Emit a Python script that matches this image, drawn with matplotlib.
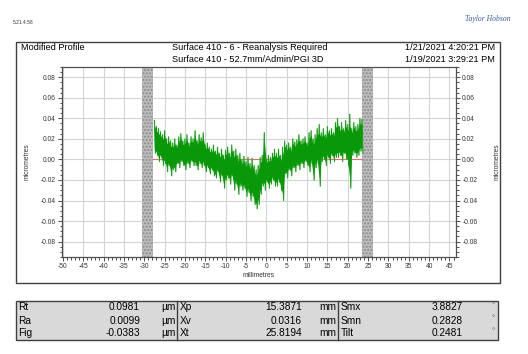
import matplotlib
matplotlib.use('Agg')
import numpy as np
from matplotlib import pyplot as plt
from matplotlib.patches import Rectangle
from matplotlib.ticker import MultipleLocator, FormatStrFormatter

plt.rcParams['font.family'] = ['Liberation Sans', 'DejaVu Sans']
plt.rcParams['axes.unicode_minus'] = False

# profile positions (mm) every 0.5 mm, with upper / lower envelope of the noisy trace (um)
pos = [-27.5 + 0.5 * i for i in range(103)]
prof_hi = [0.038, 0.032, 0.030, 0.027, 0.024, 0.028, 0.020, 0.022, 0.018, 0.016,
           0.020, 0.014, 0.022, 0.025, 0.018, 0.020, 0.024, 0.016, 0.022, 0.020,
           0.028, 0.018, 0.024, 0.021, 0.026, 0.014, 0.016, 0.012, 0.010, 0.014,
           0.008, 0.012, 0.006, 0.010, 0.004, 0.009, 0.012, 0.006, 0.014, 0.008,
           0.010, 0.004, 0.006, 0.000, 0.003, -0.002, 0.002, -0.004, 0.001, -0.006,
           -0.010, -0.006, 0.002, 0.004, 0.026, 0.000, 0.004, 0.002, 0.006, 0.010,
           0.006, 0.010, 0.004, 0.012, 0.018, 0.014, 0.016, 0.012, 0.020, 0.017,
           0.019, 0.024, 0.018, 0.020, 0.022, 0.016, 0.026, 0.028, 0.020, 0.024,
           0.030, 0.034, 0.026, 0.030, 0.024, 0.032, 0.028, 0.030, 0.026, 0.036,
           0.040, 0.032, 0.036, 0.030, 0.038, 0.034, 0.044, 0.030, 0.036, 0.032,
           0.034, 0.040, 0.039]
prof_lo = [0.006, 0.004, -0.002, 0.002, -0.006, -0.004, -0.012, -0.006, -0.016, -0.010,
           -0.012, -0.004, -0.008, -0.002, -0.006, -0.010, -0.004, -0.008, -0.002, -0.006,
           -0.006, -0.010, -0.004, -0.008, -0.006, -0.012, -0.008, -0.014, -0.010, -0.016,
           -0.018, -0.012, -0.022, -0.016, -0.028, -0.020, -0.018, -0.024, -0.016, -0.030,
           -0.024, -0.034, -0.026, -0.030, -0.028, -0.036, -0.032, -0.040, -0.036, -0.044,
           -0.048, -0.044, -0.034, -0.026, -0.030, -0.022, -0.028, -0.024, -0.020, -0.026,
           -0.026, -0.022, -0.030, -0.040, -0.014, -0.018, -0.010, -0.016, -0.008, -0.012,
           -0.006, -0.010, -0.004, -0.008, -0.002, -0.006, -0.012, -0.004, -0.020, -0.008,
           -0.004, -0.026, -0.002, 0.000, -0.006, 0.002, -0.004, 0.004, -0.002, 0.002,
           0.002, 0.004, -0.002, 0.006, 0.000, -0.006, -0.028, 0.004, 0.006, 0.002,
           0.004, 0.008, 0.006]

# excluded (masked) zones, mm
masks = [(-30.5, -27.8), (23.5, 26.1)]

header_left = '5.21.4.58'
title_left = 'Modified Profile'
title_mid = ['Surface 410 - 6 - Reanalysis Required', 'Surface 410 - 52.7mm/Admin/PGI 3D']
title_right = ['1/21/2021 4:20:21 PM', '1/19/2021 3:29:21 PM']

# results table
tab_rows = [['Rt', '0.0981', 'µm', 'Xp', '15.3871', 'mm', 'Smx', '3.8827', '°'],
            ['Ra', '0.0099', 'µm', 'Xv', '0.0316', 'mm', 'Smn', '0.2828', '°'],
            ['Fig', '-0.0383', 'µm', 'Xt', '25.8194', 'mm', 'Tilt', '0.2481', '°']]

W, H = 528, 354
fig = plt.figure(figsize=(W / 100, H / 100), dpi=100)


def fx(px):
    return px / W


def fy(py):
    return 1 - py / H


# outer frame
fig.patches.append(Rectangle((fx(16), fy(283)), fx(500) - fx(16), fy(42) - fy(283),
                             transform=fig.transFigure, fill=False, ec='#404040', lw=1))

fig.text(fx(13), fy(22), header_left, fontsize=3.5, va='center', color='#333333')
fig.text(fx(511), fy(19), 'Taylor Hobson', fontsize=5.5, ha='right', va='center',
         style='italic', family='Liberation Serif', color='#3a5a9a')

fig.text(fx(21), fy(47), title_left, fontsize=6.6, va='center')
for i in range(2):
    fig.text(fx(172), fy(47 + 12 * i), title_mid[i], fontsize=6.6, va='center')
    fig.text(fx(495), fy(47 + 12 * i), title_right[i], fontsize=6.6, va='center', ha='right')

ax = fig.add_axes([fx(62), fy(257), fx(456) - fx(62), fy(67) - fy(257)])
ax.set_xlim(-50.2, 46.6)
ax.set_ylim(-0.095, 0.09)

ax.xaxis.set_major_locator(MultipleLocator(5))
ax.xaxis.set_minor_locator(MultipleLocator(1))
ax.yaxis.set_minor_locator(MultipleLocator(0.005))
ax.set_yticks(np.arange(-0.08, 0.081, 0.02))
ax.grid(True, which='major', color='#d4d4d4', lw=0.8)
ax.set_axisbelow(True)

for a, b in masks:
    ax.axvspan(a, b, facecolor='#bdbdbd', edgecolor='#8a8a8a', hatch='.....', lw=0, zorder=2)

ax.plot([masks[0][1], masks[1][0]], [0, 0], color='#e07070', lw=0.8, zorder=3)

p = np.array(pos)
core_hi = [h - 0.15 * (h - l) for h, l in zip(prof_hi, prof_lo)]
core_lo = [l + 0.12 * (h - l) for h, l in zip(prof_hi, prof_lo)]
ax.fill_between(p, core_lo, core_hi, color='#089808', lw=0, zorder=4)
zx, zy = [], []
for x, h, l in zip(pos, prof_hi, prof_lo):
    zx += [x, x + 0.25]
    zy += [h, l]
ax.plot(zx, zy, color='#6cc46c', lw=0.9, zorder=3.5)
ax.plot(zx, zy, color='#089808', lw=0.5, zorder=4)

for s in ax.spines.values():
    s.set_color('#505050')
    s.set_linewidth(0.9)

ax.tick_params(which='both', labelsize=4.8, colors='#333333', length=3, width=0.6, pad=1.5,
               right=True, labelright=True)
ax.tick_params(which='minor', length=1.8)
ax.yaxis.set_major_formatter(FormatStrFormatter('%.2f'))
ax.set_xlabel('millimetres', fontsize=4.8, labelpad=1.5, color='#333333')
ax.set_ylabel('micrometres', fontsize=4.8, labelpad=7, color='#333333')
fig.text(fx(497), fy(162), 'micrometres', fontsize=4.8, rotation=90, va='center', ha='center',
         color='#333333')

# results table
ty0, rh = 301, 13
fig.patches.append(Rectangle((fx(16), fy(ty0 + 3 * rh)), fx(498) - fx(16), fy(ty0) - fy(ty0 + 3 * rh),
                             transform=fig.transFigure, fc='#d9d9d9', ec='#404040', lw=1))
for xd in (177, 338):
    fig.add_artist(plt.Line2D([fx(xd), fx(xd)], [fy(ty0), fy(ty0 + 3 * rh)], color='#404040', lw=1))

groups = [(18, 140, 176), (180, 302, 336), (341, 463, 495)]
for r, row in enumerate(tab_rows):
    yy = fy(ty0 + rh * r + rh / 2)
    for g, (xl, xv, xu) in enumerate(groups):
        lab, val, unit = row[3 * g:3 * g + 3]
        fig.text(fx(xl), yy, lab, fontsize=7.3, va='center')
        fig.text(fx(xv), yy, val, fontsize=7.3, va='center', ha='right')
        if unit == '°':
            fig.text(fx(xu), fy(ty0 + rh * r + 5), unit, fontsize=5.5, va='center', ha='right',
                     color='#555555')
        else:
            fig.text(fx(xu), yy, unit, fontsize=7.3, va='center', ha='right')

fig.savefig('out.png', dpi=100)
